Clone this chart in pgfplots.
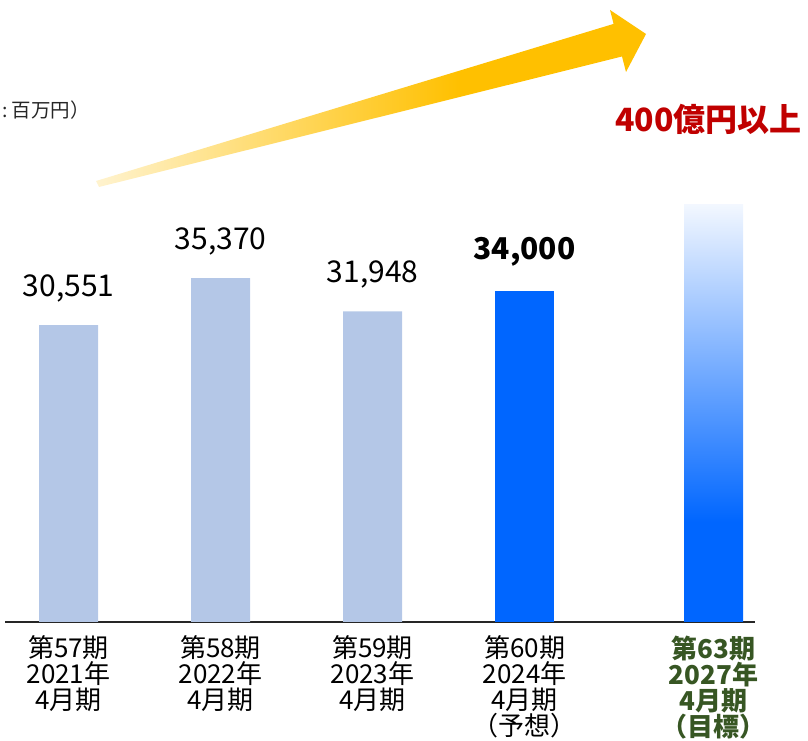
\documentclass[border=0pt]{standalone}
\usepackage{fontspec}
\setmainfont{Noto Sans CJK JP}
\usepackage{pgfplots}
\pgfplotsset{compat=1.18}
\definecolor{lightbar}{HTML}{B4C7E7}
\definecolor{mainblue}{HTML}{0066FF}
\definecolor{topblue}{HTML}{F2F7FF}
\definecolor{tred}{HTML}{C00000}
\definecolor{tgreen}{HTML}{375623}
\definecolor{gold}{HTML}{FFC000}
\definecolor{paleg}{HTML}{FFF3CF}
\pgfdeclareverticalshading{targetbar}{100bp}{color(0bp)=(mainblue); color(37bp)=(mainblue); color(75bp)=(topblue); color(100bp)=(topblue)}
\pgfdeclarehorizontalshading{arrowshade}{100bp}{color(0bp)=(paleg); color(25bp)=(paleg); color(58bp)=(gold); color(100bp)=(gold)}
\newcommand{\tg}[1]{\textcolor{tgreen}{\bfseries #1}}
\begin{document}
\begin{tikzpicture}[x=1bp,y=1bp]
\path[use as bounding box] (0,0) rectangle (808,741);
\begin{axis}[
  at={(5bp,119bp)}, anchor=south west,
  scale only axis, width=750bp, height=437.45bp,
  xmin=-0.418, xmax=4.516, ymin=0, ymax=45000,
  axis x line*=bottom, axis y line=none,
  x axis line style={black!85, line width=1.5bp},
  xtick={0,1,2,3,4.243},
  xticklabels={{第57期\\2021年\\4月期},{第58期\\2022年\\4月期},{第59期\\2023年\\4月期},{第60期\\2024年\\4月期\\（予想）},{\tg{第63期}\\\tg{2027年}\\\tg{4月期}\\\tg{（目標）}}},
  major tick length=0pt,
  xticklabel style={align=center, anchor=north, font=\fontsize{26bp}{26bp}\selectfont, yshift=-10bp},
  ytick=\empty,
  clip=false,
]
\addplot[ybar, bar width=59bp, fill=lightbar, draw=none,
  nodes near coords, point meta=explicit symbolic,
  nodes near coords style={anchor=base, yshift=29bp, font=\fontsize{30bp}{31bp}\selectfont, text=black}]
  coordinates {(0,30551) [30,551] (1,35370) [35,370] (2,31948) [31,948]};
\addplot[ybar, bar width=59bp, fill=mainblue, draw=none,
  nodes near coords, point meta=explicit symbolic,
  nodes near coords style={anchor=base, yshift=32bp, font=\fontsize{30bp}{31bp}\selectfont\bfseries, text=black}]
  coordinates {(3,34000) [34,000]};
\addplot[ybar, bar width=59bp, draw=none, shade, shading=targetbar]
  coordinates {(4.243,42900)};
\end{axis}
\shade[shading=arrowshade] (96,560) -- (613.6,717.1) -- (610,731) -- (646,707) -- (626,669) -- (622,684.5) -- (99,554) -- cycle;
\node[anchor=west, font=\fontsize{19.5bp}{20bp}\selectfont, text=black!85, inner sep=0] at (2,631) {:\kern4bp 百万円）};
\node[font=\fontsize{32bp}{33bp}\selectfont\bfseries, text=tred, inner sep=0] at (708.5,621.5) {400億円以上};
\end{tikzpicture}
\end{document}
